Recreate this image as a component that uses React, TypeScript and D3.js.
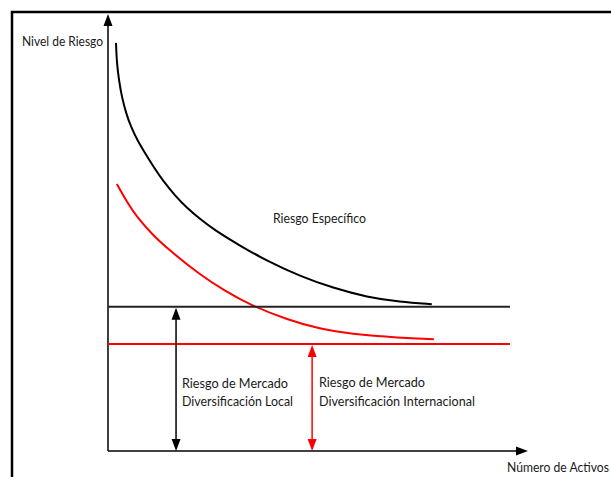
import React, { useRef, useEffect } from 'react';
import * as d3 from 'd3';

// Curves, in axis units (0..100 on both axes)
const especificoX = [1.9, 2.1, 2.6, 3.3, 4.3, 5.5, 7.1, 8.8, 11.0, 13.1, 16.0, 18.8, 21.9, 25.0, 31.9, 37.9, 45.7, 53.6, 61.7, 69.5, 77.1];
const especificoY = [93.4, 88.8, 84.9, 81.0, 77.3, 74.1, 70.9, 68.2, 64.8, 61.8, 58.4, 55.6, 53.1, 50.8, 46.7, 43.5, 40.0, 37.3, 35.2, 34.1, 33.6];

const internacionalX = [2.1, 4.5, 6.9, 10.7, 14.3, 21.9, 27.9, 33.8, 42.9, 50.5, 57.6, 69.5, 77.6];
const internacionalY = [61.1, 57.0, 53.5, 49.4, 46.2, 40.3, 36.6, 33.4, 30.0, 27.9, 26.8, 25.9, 25.6];

// Market risk levels and where their arrows sit
const mercadoLocal = 33.0;
const mercadoInternacional = 24.5;
const lineaFin = 95.7;
const flechaLocalX = 16.2;
const flechaInternacionalX = 48.6;

const labels = {
  yAxis: 'Nivel de Riesgo',
  xAxis: 'Número de Activos',
  especifico: 'Riesgo Específico',
  local: ['Riesgo de Mercado', 'Diversificación Local'],
  internacional: ['Riesgo de Mercado', 'Diversificación Internacional'],
};

const width = 611;
const height = 477;
const RED = '#ff0000';
const FONT = 'Lato, "Open Sans", sans-serif';

export default function App(): React.ReactElement {
  const svgRef = useRef<SVGSVGElement>(null);

  useEffect(() => {
    if (!svgRef.current) return;
    const svg = d3.select(svgRef.current);
    svg.selectAll('*').remove();

    const x = d3.scaleLinear().domain([0, 100]).range([108, 528]);
    const y = d3.scaleLinear().domain([0, 100]).range([451, 14]);

    // Outer frame (top and left edges visible)
    svg.append('path')
      .attr('d', `M 12,${height} L 12,12 L ${width},12`)
      .attr('fill', 'none')
      .attr('stroke', '#000')
      .attr('stroke-width', 2.5);

    const arrowHead = (tx: number, ty: number, dir: 'up' | 'down' | 'right', color: string) => {
      const len = 12;
      const half = 4.5;
      let d = '';
      if (dir === 'up') d = `M ${tx},${ty} L ${tx - half},${ty + len} L ${tx + half},${ty + len} Z`;
      if (dir === 'down') d = `M ${tx},${ty} L ${tx - half},${ty - len} L ${tx + half},${ty - len} Z`;
      if (dir === 'right') d = `M ${tx},${ty} L ${tx - len},${ty - half} L ${tx - len},${ty + half} Z`;
      svg.append('path').attr('d', d).attr('fill', color);
    };

    // Axes
    svg.append('line')
      .attr('x1', x(0)).attr('x2', x(0))
      .attr('y1', y(0)).attr('y2', y(100) + 6)
      .attr('stroke', '#000').attr('stroke-width', 1.5);
    arrowHead(x(0), y(100), 'up', '#000');

    svg.append('line')
      .attr('x1', x(0)).attr('x2', x(100) - 6)
      .attr('y1', y(0)).attr('y2', y(0))
      .attr('stroke', '#000').attr('stroke-width', 1.5);
    arrowHead(x(100), y(0), 'right', '#000');

    // Curves, smoothed through the read points
    const line = d3.line<[number, number]>()
      .x((d) => x(d[0]))
      .y((d) => y(d[1]))
      .curve(d3.curveBasis);

    const especifico = especificoX.map((v, i) => [v, especificoY[i]] as [number, number]);
    const internacional = internacionalX.map((v, i) => [v, internacionalY[i]] as [number, number]);

    svg.append('path')
      .attr('d', line(especifico))
      .attr('fill', 'none')
      .attr('stroke', '#000')
      .attr('stroke-width', 2);

    svg.append('path')
      .attr('d', line(internacional))
      .attr('fill', 'none')
      .attr('stroke', RED)
      .attr('stroke-width', 2);

    // Market risk levels
    svg.append('line')
      .attr('x1', x(0)).attr('x2', x(lineaFin))
      .attr('y1', y(mercadoLocal)).attr('y2', y(mercadoLocal))
      .attr('stroke', '#222').attr('stroke-width', 2);

    svg.append('line')
      .attr('x1', x(0)).attr('x2', x(lineaFin))
      .attr('y1', y(mercadoInternacional)).attr('y2', y(mercadoInternacional))
      .attr('stroke', RED).attr('stroke-width', 2);

    // Double arrows
    const doubleArrow = (ax: number, top: number, color: string) => {
      svg.append('line')
        .attr('x1', x(ax)).attr('x2', x(ax))
        .attr('y1', y(top) + 8).attr('y2', y(0) - 8)
        .attr('stroke', color).attr('stroke-width', 1.5);
      arrowHead(x(ax), y(top) + 1, 'up', color);
      arrowHead(x(ax), y(0), 'down', color);
    };
    doubleArrow(flechaLocalX, mercadoLocal, '#000');
    doubleArrow(flechaInternacionalX, mercadoInternacional, RED);

    // Texts
    const text = (tx: number, ty: number, s: string, len: number) => {
      svg.append('text')
        .attr('x', tx)
        .attr('y', ty)
        .attr('font-family', FONT)
        .attr('font-size', 12.5)
        .attr('fill', '#1a1a1a')
        .attr('textLength', len)
        .attr('lengthAdjust', 'spacingAndGlyphs')
        .text(s);
    };

    text(22, 46, labels.yAxis, 81);
    text(507, 472, labels.xAxis, 102);
    text(273, 223, labels.especifico, 93);
    text(182, 388, labels.local[0], 106);
    text(182, 406, labels.local[1], 111);
    text(319, 387, labels.internacional[0], 106);
    text(319, 406, labels.internacional[1], 156);
  }, []);

  return (
    <svg
      ref={svgRef}
      width={width}
      height={height}
      style={{ position: 'absolute', left: 0, top: 0, background: '#fff' }}
    />
  );
}
